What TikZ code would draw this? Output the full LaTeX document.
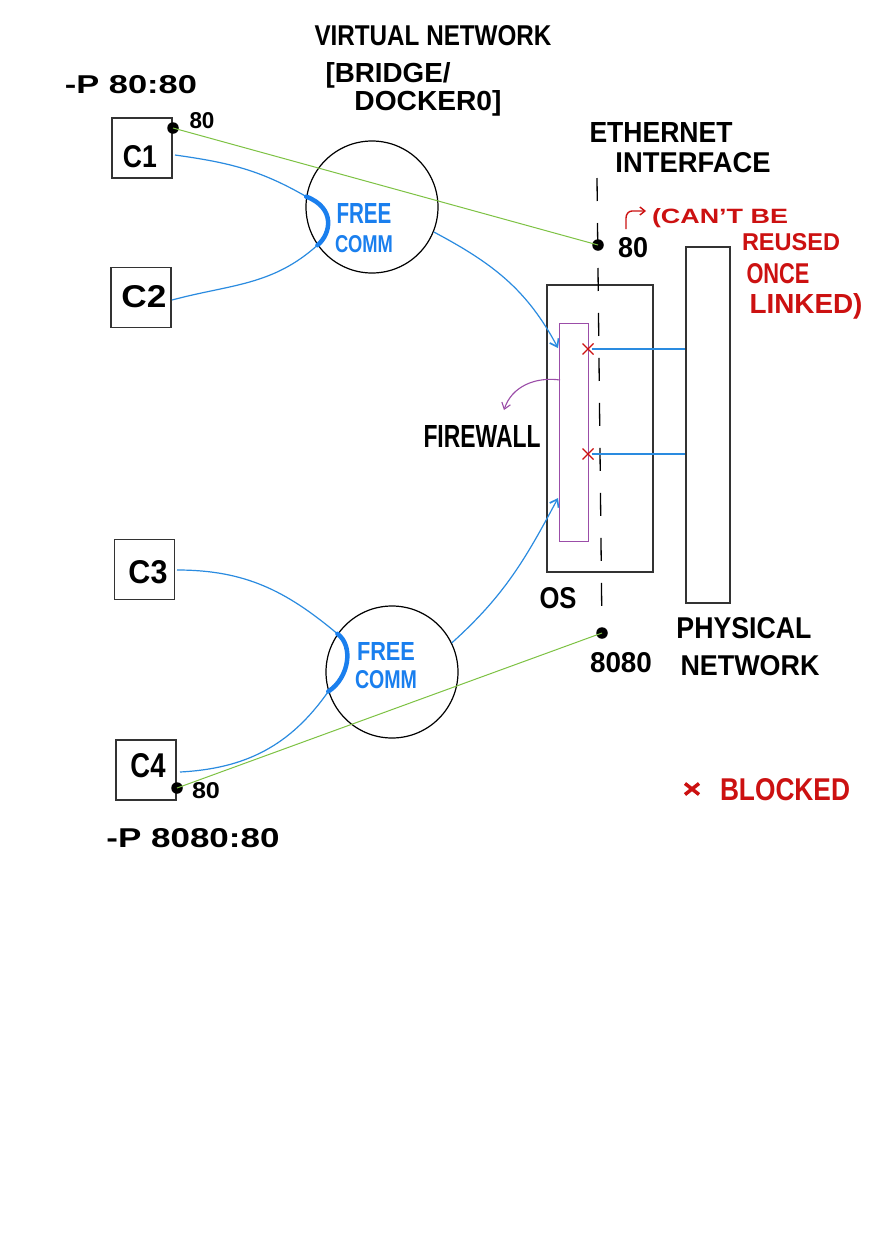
\documentclass[tikz,border=0pt]{standalone}
\usepackage{fontspec}
\setmainfont{Liberation Sans}
\usepackage{graphicx}
\usetikzlibrary{arrows.meta}
\definecolor{lblue}{HTML}{2A8BE0}
\definecolor{tblue}{HTML}{1A7FEE}
\definecolor{lgreen}{HTML}{7DC243}
\definecolor{fpurple}{HTML}{9B4DA8}
\definecolor{mred}{HTML}{CC1111}
\definecolor{boxgray}{HTML}{333333}
\newcommand\tw[3]{\resizebox{#1pt}{#2pt}{#3}}
\begin{document}
\begin{tikzpicture}[x=1pt,y=1pt,
  hw/.style={font=\bfseries, inner sep=0pt, anchor=base},
  cbox/.style={draw=boxgray, line width=1.2pt, minimum size=60pt, inner sep=0pt},
  vnet/.style={draw=black, line width=1.2pt, circle, minimum size=132pt, inner sep=0pt},
  dotn/.style={circle, fill=black, minimum size=11.5pt, inner sep=0pt},
  bl/.style={draw=lblue, line width=1.2pt},
  blarrow/.style={bl, -{Straight Barb[length=7pt,width=10pt,line width=1.6pt]}},
  thickarc/.style={draw=tblue, line width=4.5pt, line cap=round},
  grn/.style={draw=lgreen, line width=1pt},
  xmark/.style={draw=mred, line width=1.3pt}
]
\useasboundingbox (0,0) rectangle (880,-1245);
\fill[white] (0,0) rectangle (880,-1245);

% containers
\node[cbox] (c1) at (142,-148) {};
\node[cbox] (c2) at (141,-297.5) {};
\node[cbox] (c3) at (144.5,-569.5) {};
\node[cbox] (c4) at (146,-770) {};
\node[hw] at (140,-167) {\tw{34}{22}{C1}};
\node[hw] at (144,-307) {\tw{45}{22}{C2}};
\node[hw] at (148,-583) {\tw{39}{23}{C3}};
\node[hw] at (148,-777) {\tw{35}{24}{C4}};

% virtual networks
\node[vnet] (v1) at (372,-207) {};
\node[vnet] (v2) at (392,-672) {};

% OS, firewall, physical network
\node[draw=boxgray, line width=1.2pt, minimum width=106pt, minimum height=287pt, inner sep=0pt] (os) at (600,-428.5) {};
\node[draw=fpurple, line width=1pt, minimum width=29pt, minimum height=218pt, inner sep=0pt] (fw) at (573.5,-432) {};
\node[draw=boxgray, line width=1.2pt, minimum width=44pt, minimum height=356pt, inner sep=0pt] (phys) at (708,-425) {};

% ethernet interface
\coordinate (ethtop) at (597,-178);
\node[dotn] (e80) at (598,-245) {};
\node[dotn] (e8080) at (602,-633) {};
\draw[black, line width=1.3pt, dash pattern=on 23pt off 22pt] (ethtop) -- (e8080.center);

% container port dots
\node[dotn] (d1) at (173,-128) {};
\node[dotn] (d4) at (177,-788) {};

% green port mappings
\draw[grn] (d1.center) -- (e80.center);
\draw[grn] (d4.center) -- (e8080.center);

% blue communications, network 1
\coordinate (c1o) at (175,-155);
\coordinate (c2o) at (172,-300);
\draw[bl] (c1o) to[out=-8,in=150] (v1.171);
\draw[thickarc] (v1.171) .. controls (336,-208) and (331,-234) .. (v1.215);
\draw[bl] (c2o) to[out=15,in=222] (v1.215);
\coordinate (fwt) at (558,-348);
\draw[blarrow] (v1.-22) to[out=-28,in=118] (fwt);

% blue communications, network 2
\coordinate (c3o) at (177,-570);
\coordinate (c4o) at (180,-772);
\draw[bl] (c3o) to[out=0,in=140] (v2.145);
\draw[thickarc] (v2.145) .. controls (354,-646) and (349,-678) .. (v2.197);
\draw[bl] (c4o) to[out=3,in=235] (v2.197);
\coordinate (fwb) at (558,-498);
\draw[blarrow] (v2.26) to[out=42,in=242] (fwb);

% blocked inbound connections
\coordinate (x1) at (588,-349);
\coordinate (x2) at (588,-454);
\coordinate (p1) at (685,-349);
\coordinate (p2) at (685,-454);
\draw[bl] (p1) -- ([xshift=4pt]x1);
\draw[bl] (p2) -- ([xshift=4pt]x2);
\draw[xmark] ([shift={(-5.5,-5.5)}]x1) -- ([shift={(5.5,5.5)}]x1);
\draw[xmark] ([shift={(-5.5,5.5)}]x1) -- ([shift={(5.5,-5.5)}]x1);
\draw[xmark] ([shift={(-5.5,-5.5)}]x2) -- ([shift={(5.5,5.5)}]x2);
\draw[xmark] ([shift={(-5.5,5.5)}]x2) -- ([shift={(5.5,-5.5)}]x2);

% firewall pointer
\coordinate (fwa) at (560,-380);
\coordinate (fwl) at (504,-410);
\draw[draw=fpurple, line width=1.1pt, -{Straight Barb[length=6pt,width=9pt]}] (fwa) to[out=172,in=72] (fwl);

% red hook arrow
\coordinate (h0) at (626,-229);
\coordinate (h1) at (646,-211);
\draw[draw=mred, line width=1.4pt, -{Straight Barb[length=5pt,width=8pt]}] (h0) -- (626,-218) to[out=90,in=180] (632,-211) -- (h1);

% labels
\node[hw] at (433,-45) {\tw{237}{20}{VIRTUAL NETWORK}};
\node[hw] at (388,-82) {\tw{125}{20}{[BRIDGE/}};
\node[hw] at (428,-110) {\tw{147}{20}{DOCKER0]}};
\node[hw] at (131,-93) {\tw{132}{18}{-P 80:80}};
\node[hw] at (202,-128) {\tw{25}{16}{80}};
\node[hw, text=tblue] at (364,-223) {\tw{55}{20}{FREE}};
\node[hw, text=tblue] at (364,-252) {\tw{58}{17}{COMM}};
\node[hw] at (661,-142) {\tw{143}{20}{ETHERNET}};
\node[hw] at (693,-172) {\tw{155}{20}{INTERFACE}};
\node[hw] at (633,-257) {\tw{30}{20}{80}};
\node[hw, text=mred] at (720,-223) {\tw{136}{15}{(CAN’T BE}};
\node[hw, text=mred] at (791,-250) {\tw{98}{17}{REUSED}};
\node[hw, text=mred] at (778,-283) {\tw{63}{20}{ONCE}};
\node[hw, text=mred] at (806,-313) {\tw{113}{20}{LINKED)}};
\node[hw] at (482,-447) {\tw{117}{22}{FIREWALL}};
\node[hw] at (558,-608) {\tw{37}{21}{OS}};
\node[hw, text=tblue] at (386,-660) {\tw{58}{18}{FREE}};
\node[hw, text=tblue] at (386,-688) {\tw{62}{18}{COMM}};
\node[hw] at (621,-672) {\tw{62}{20}{8080}};
\node[hw] at (744,-638) {\tw{135}{21}{PHYSICAL}};
\node[hw] at (750,-675) {\tw{139}{20}{NETWORK}};
\node[hw] at (206,-798) {\tw{28}{16}{80}};
\node[hw] at (193,-847) {\tw{173}{19}{-P 8080:80}};

% legend
\coordinate (lx) at (692,-789);
\draw[draw=mred, line width=3.5pt] ([shift={(-7,-5.5)}]lx) -- ([shift={(7,5.5)}]lx);
\draw[draw=mred, line width=3.5pt] ([shift={(-7,5.5)}]lx) -- ([shift={(7,-5.5)}]lx);
\node[hw, text=mred] at (785,-800) {\tw{130}{22}{BLOCKED}};
\end{tikzpicture}
\end{document}
